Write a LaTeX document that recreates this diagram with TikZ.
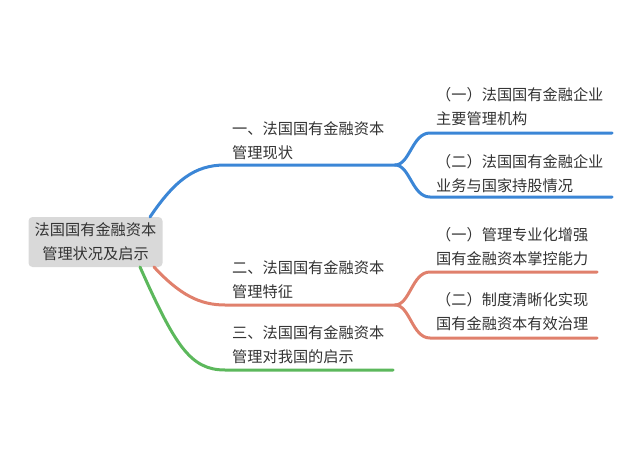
\documentclass[tikz,border=0pt]{standalone}
\usepackage{fontspec}
\setmainfont{Noto Sans CJK SC}
\begin{document}
\begin{tikzpicture}[x=1pt,y=-1pt,
  txt/.style={font=\fontsize{15.2}{24}\selectfont,text=black!80,anchor=west,inner sep=0pt,align=left},
  br/.style={line width=3pt,line cap=round},
  blu/.style={color={rgb,255:red,59;green,134;blue,214}},
  rd/.style={color={rgb,255:red,224;green,128;blue,108}},
  gr/.style={color={rgb,255:red,92;green,184;blue,92}}]
\useasboundingbox (0,0) rectangle (640,452);
\node[fill=black!15,rounded corners=4pt,minimum width=134pt,minimum height=50pt,align=center,
  font=\fontsize{15.2}{24}\selectfont,text=black!80,inner sep=0pt] (root) at (95.5,242) {法国国有金融资本\\管理状况及启示};
% coordinates
\coordinate (b0) at (150,217); \coordinate (b1) at (225,165); \coordinate (b2) at (395,165);
\coordinate (b3) at (430,133); \coordinate (b4) at (612,133);
\coordinate (b5) at (430,197); \coordinate (b6) at (612,197);
\coordinate (r0) at (154,267); \coordinate (r1) at (225,305); \coordinate (r2) at (395,305);
\coordinate (r3) at (430,272); \coordinate (r4) at (597,272);
\coordinate (r5) at (430,338); \coordinate (r6) at (597,338);
\coordinate (g0) at (140,267); \coordinate (g1) at (225,370); \coordinate (g2) at (393,370);
% branches
\draw[br,blu] (b0) .. controls (175,180) and (195,165) .. (b1) -- (b2);
\draw[br,blu] (b2) .. controls (410,165) and (412,133) .. (b3) -- (b4);
\draw[br,blu] (b2) .. controls (410,165) and (412,197) .. (b5) -- (b6);
\draw[br,rd] (r0) .. controls (180,295) and (200,305) .. (r1) -- (r2);
\draw[br,rd] (r2) .. controls (410,305) and (412,272) .. (r3) -- (r4);
\draw[br,rd] (r2) .. controls (410,305) and (412,338) .. (r5) -- (r6);
\draw[br,gr] (g0) .. controls (175,345) and (190,370) .. (g1) -- (g2);
% texts
\node[txt] (t1) at (232,140.5) {一、法国国有金融资本\\管理现状};
\node[txt] (t2) at (232,279.5) {二、法国国有金融资本\\管理特征};
\node[txt] (t3) at (232,345) {三、法国国有金融资本\\管理对我国的启示};
\node[txt] (t11) at (436,106.5) {（一）法国国有金融企业\\主要管理机构};
\node[txt] (t12) at (436,173.5) {（二）法国国有金融企业\\业务与国家持股情况};
\node[txt] (t21) at (436,246.5) {（一）管理专业化增强\\国有金融资本掌控能力};
\node[txt] (t22) at (436,311.5) {（二）制度清晰化实现\\国有金融资本有效治理};
\end{tikzpicture}
\end{document}
